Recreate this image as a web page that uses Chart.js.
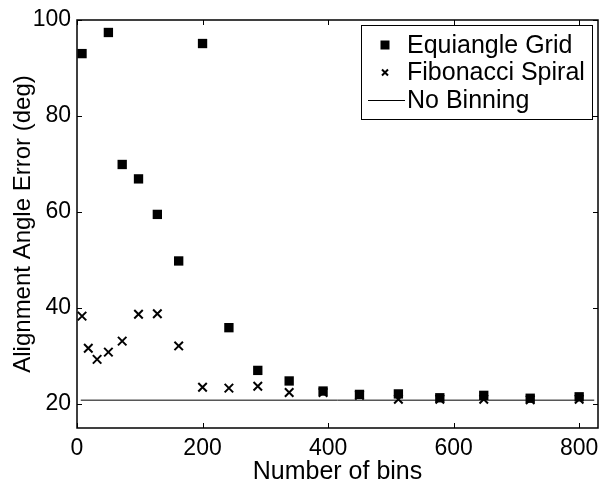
<!DOCTYPE html>
<html>
<head>
<meta charset="utf-8">
<script src="https://cdn.jsdelivr.net/npm/chart.js@4/dist/chart.umd.min.js"></script>
<style>
  html, body { margin: 0; padding: 0; background: #fff; }
  #wrap { width: 615px; height: 489px; }
</style>
</head>
<body>
<div id="wrap"><canvas id="c" width="615" height="489"></canvas></div>
<script>
// number of bins (2*n^2) and mean alignment error in degrees
const gridBins = [8, 50, 72, 98, 128, 162, 200, 242, 288, 338, 392, 450, 512, 578, 648, 722, 800];
const gridErr  = [93, 97.4, 69.9, 66.9, 59.5, 49.8, 95.1, 35.9, 27.0, 24.8, 22.7, 22.0, 22.1, 21.3, 21.8, 21.2, 21.5];
const fibBins  = [8, 18, 32, 50, 72, 98, 128, 162, 200, 242, 288, 338, 392, 450, 512, 578, 648, 722, 800];
const fibErr   = [38.3, 31.6, 29.3, 30.8, 33.1, 38.7, 38.8, 32.1, 23.5, 23.3, 23.7, 22.4, 22.4, 21.8, 21.0, 21.0, 21.0, 20.9, 21.0];
const noBinX   = [6, 824];
const noBinErr = 20.8;
const xTicks = [0, 200, 400, 600, 800];
const yTicks = [20, 40, 60, 80, 100];

const FONT = '"Liberation Sans", Arial, Helvetica, sans-serif';

function pts(xs, ys) { return xs.map((x, i) => ({ x, y: ys[i] })); }

const frame = {
  id: 'frame',
  afterDraw(chart) {
    const { ctx, chartArea: a, scales: { x, y } } = chart;
    ctx.save();
    ctx.strokeStyle = '#000';
    ctx.lineWidth = 1.5;
    ctx.strokeRect(a.left, a.top, a.right - a.left, a.bottom - a.top);
    ctx.lineWidth = 1;
    ctx.beginPath();
    xTicks.forEach(v => {
      const px = Math.round(x.getPixelForValue(v)) + 0.5;
      ctx.moveTo(px, a.bottom); ctx.lineTo(px, a.bottom - 5);
      ctx.moveTo(px, a.top); ctx.lineTo(px, a.top + 5);
    });
    yTicks.forEach(v => {
      const py = Math.round(y.getPixelForValue(v)) + 0.5;
      ctx.moveTo(a.left, py); ctx.lineTo(a.left + 5, py);
      ctx.moveTo(a.right, py); ctx.lineTo(a.right - 5, py);
    });
    ctx.stroke();

    // legend box
    const w = 231, h = 94;
    const lx = a.right - 6 - w, ly = a.top + 5;
    ctx.fillStyle = '#fff';
    ctx.fillRect(lx, ly, w, h);
    ctx.lineWidth = 1;
    ctx.strokeRect(lx + 0.5, ly + 0.5, w, h);
    ctx.fillStyle = '#000';
    ctx.font = '25px ' + FONT;
    ctx.textBaseline = 'middle';
    const rows = chart.data.datasets.map(d => d.label);
    rows.forEach((t, i) => {
      const cy = ly + 20 + i * 27.5;
      const mx = lx + 24;
      if (i === 0) {
        ctx.fillRect(mx - 4.5, cy - 4.5, 9, 9);
      } else if (i === 1) {
        ctx.lineWidth = 2;
        ctx.beginPath();
        ctx.moveTo(mx - 3, cy - 3); ctx.lineTo(mx + 3, cy + 3);
        ctx.moveTo(mx + 3, cy - 3); ctx.lineTo(mx - 3, cy + 3);
        ctx.stroke();
      } else {
        ctx.lineWidth = 1;
        ctx.beginPath();
        ctx.moveTo(lx + 7, cy + 0.5); ctx.lineTo(lx + 44, cy + 0.5);
        ctx.stroke();
      }
      ctx.fillText(t, lx + 46, cy + 1);
    });
    ctx.restore();
  }
};

new Chart(document.getElementById('c'), {
  type: 'scatter',
  data: {
    datasets: [
      { label: 'Equiangle Grid', data: pts(gridBins, gridErr), pointStyle: 'rect', radius: 6.6,
        backgroundColor: '#000', borderColor: '#000', borderWidth: 0 },
      { label: 'Fibonacci Spiral', data: pts(fibBins, fibErr), pointStyle: 'crossRot', radius: 6,
        backgroundColor: '#000', borderColor: '#000', borderWidth: 2 },
      { label: 'No Binning', type: 'line', data: noBinX.map(x => ({ x, y: noBinErr })),
        borderColor: '#000', borderWidth: 1, pointRadius: 0, fill: false }
    ]
  },
  options: {
    responsive: false,
    animation: false,
    events: [],
    layout: { padding: { top: 20, right: 17, left: 0, bottom: 0 } },
    plugins: { legend: { display: false }, tooltip: { enabled: false } },
    scales: {
      x: {
        type: 'linear', min: 0, max: 830,
        afterBuildTicks: s => { s.ticks = xTicks.map(v => ({ value: v })); },
        afterFit: s => { s.height = 61; },
        grid: { display: false, drawTicks: false }, border: { display: false },
        ticks: { color: '#000', font: { family: FONT, size: 23 }, padding: 7, maxRotation: 0 },
        title: { display: true, text: 'Number of bins', color: '#000', font: { family: FONT, size: 25 }, padding: { top: 0, bottom: 2 } }
      },
      y: {
        type: 'linear', min: 15, max: 100,
        afterBuildTicks: s => { s.ticks = yTicks.map(v => ({ value: v })); },
        afterFit: s => { s.width = 77; },
        grid: { display: false, drawTicks: false }, border: { display: false },
        ticks: { color: '#000', font: { family: FONT, size: 23 }, padding: 6 },
        title: { display: true, text: 'Alignment Angle Error (deg)', color: '#000', font: { family: FONT, size: 24 }, padding: { top: 9, bottom: 0 } }
      }
    }
  },
  plugins: [frame]
});
</script>
</body>
</html>
